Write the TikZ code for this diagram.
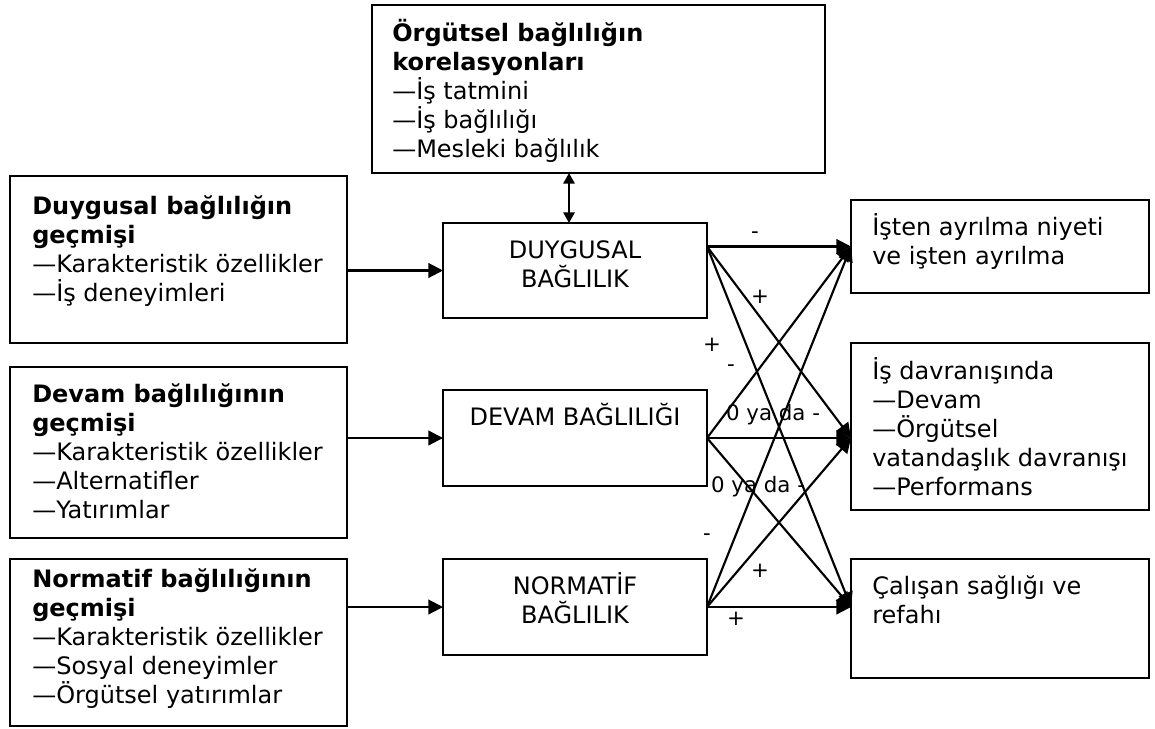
\documentclass[tikz,border=0pt]{standalone}
\usepackage{fontspec}
\setmainfont{DejaVu Sans}
\usetikzlibrary{arrows.meta}
\begin{document}
\begin{tikzpicture}[x=0.75pt,y=-0.75pt,
  box/.style={draw, line width=1.7pt, inner sep=0pt, outer sep=0pt, anchor=north west},
  txt/.style={anchor=base west, align=left, inner sep=0pt, font=\fontsize{18}{21.75}\selectfont},
  ctxt/.style={anchor=base, align=center, inner sep=0pt, font=\fontsize{18}{21.75}\selectfont},
  lbl/.style={inner sep=0pt, font=\fontsize{16}{19}\selectfont},
  arr/.style={line width=1.6pt, -{Triangle[length=11pt,width=11pt]}},
  dbl/.style={line width=1.6pt, {Triangle[length=8pt,width=8.5pt]}-{Triangle[length=8pt,width=8.5pt]}}]
\useasboundingbox (0,0) rectangle (1155,728);
% boxes
\node[box, minimum width=453*0.75pt, minimum height=168*0.75pt] (top) at (372,5) {};
\node[box, minimum width=337*0.75pt, minimum height=167*0.75pt] (lb1) at (10,176) {};
\node[box, minimum width=337*0.75pt, minimum height=171*0.75pt] (lb2) at (10,367) {};
\node[box, minimum width=337*0.75pt, minimum height=167*0.75pt] (lb3) at (10,559) {};
\node[box, minimum width=264*0.75pt, minimum height=95*0.75pt] (dB) at (443,223) {};
\node[box, minimum width=264*0.75pt, minimum height=96*0.75pt] (dv) at (443,390) {};
\node[box, minimum width=264*0.75pt, minimum height=96*0.75pt] (nm) at (443,559) {};
\node[box, minimum width=298*0.75pt, minimum height=93*0.75pt] (r1) at (851,200) {};
\node[box, minimum width=298*0.75pt, minimum height=167*0.75pt] (r2) at (851,343) {};
\node[box, minimum width=298*0.75pt, minimum height=119*0.75pt] (r3) at (851,559) {};
% texts (anchored at the baseline of their last line)
\node[txt] (topT) at (392,157) {\textbf{Örgütsel bağlılığın}\\\textbf{korelasyonları}\\—İş tatmini\\—İş bağlılığı\\—Mesleki bağlılık};
\node[txt] (lb1T) at (32,301) {\textbf{Duygusal bağlılığın}\\\textbf{geçmişi}\\—Karakteristik özellikler\\—İş deneyimleri};
\node[txt] (lb2T) at (32,518) {\textbf{Devam bağlılığının}\\\textbf{geçmişi}\\—Karakteristik özellikler\\—Alternatifler\\—Yatırımlar};
\node[txt] (lb3T) at (32,703) {\textbf{Normatif bağlılığının}\\\textbf{geçmişi}\\—Karakteristik özellikler\\—Sosyal deneyimler\\—Örgütsel yatırımlar};
\node[ctxt] (dBT) at (575,287) {DUYGUSAL\\BAĞLILIK};
\node[ctxt] (dvT) at (575,425) {DEVAM BAĞLILIĞI};
\node[ctxt] (nmT) at (575,623) {NORMATİF\\BAĞLILIK};
\node[txt] (r1T) at (872,264) {İşten ayrılma niyeti\\ve işten ayrılma};
\node[txt] (r2T) at (872,495) {İş davranışında\\—Devam\\—Örgütsel\\vatandaşlık davranışı\\—Performans};
\node[txt] (r3T) at (872,623) {Çalışan sağlığı ve\\refahı};
% left arrows
\draw[arr] (lb1.east |- dB.west) -- (dB.west);
\draw[arr] (lb2.east |- dv.west) -- (dv.west);
\draw[arr] (lb3.east |- nm.west) -- (nm.west);
% double arrow
\coordinate (cx) at (569,0);
\draw[dbl] (top.south -| cx) -- (dB.north -| cx);
% right arrows
\coordinate (s1) at (r1.west -| dB.east);
\coordinate (t1) at (r1.west);
\coordinate (s2) at (dv.east);
\coordinate (t2) at (dv.east -| r2.west);
\coordinate (s3) at (nm.east);
\coordinate (t3) at (nm.east -| r3.west);
\foreach \s in {s1,s2,s3}{
  \foreach \t in {t1,t2,t3}{
    \draw[arr] (\s) -- (\t);
  }
}
% labels
\node[lbl] (l1) at (755,235) {-};
\node[lbl] (l2) at (760,297) {+};
\node[lbl] (l3) at (712,345) {+};
\node[lbl] (l4) at (731,368) {-};
\node[lbl] (l5) at (773,415) {0 ya da -};
\node[lbl] (l6) at (758,487) {0 ya da -};
\node[lbl] (l7) at (707,537) {-};
\node[lbl] (l8) at (760,571) {+};
\node[lbl] (l9) at (736,619) {+};
\end{tikzpicture}
\end{document}
